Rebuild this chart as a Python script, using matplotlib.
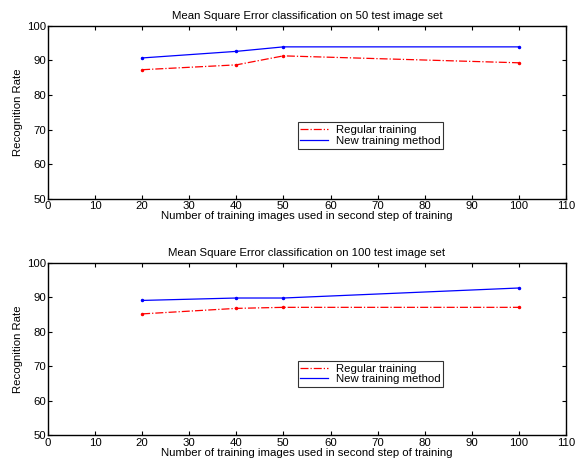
import matplotlib
matplotlib.use("Agg")
import matplotlib.pyplot as plt

plt.rcParams['font.family'] = ['Liberation Sans', 'DejaVu Sans']

n_images = [20, 40, 50, 100]

regular_50 = [87.3, 88.7, 91.3, 89.3]
new_50 = [90.7, 92.6, 93.9, 93.9]

regular_100 = [85.2, 86.8, 87.1, 87.1]
new_100 = [89.1, 89.8, 89.8, 92.7]

titles = ["Mean Square Error classification on 50 test image set",
          "Mean Square Error classification on 100 test image set"]

fs = 8.2

fig = plt.figure(figsize=(5.77, 4.68), dpi=100)
ax1 = fig.add_axes([0.083, 0.575, 0.898, 0.370])
ax2 = fig.add_axes([0.083, 0.0695, 0.898, 0.369])

legend_y = [0.29, 0.28]

for ax, reg, new, title, ly in zip([ax1, ax2], [regular_50, regular_100],
                                   [new_50, new_100], titles, legend_y):
    ax.plot(n_images, reg, 'r-.', marker='.', markersize=3, linewidth=0.9,
            label="Regular training")
    ax.plot(n_images, new, 'b-', marker='.', markersize=3, linewidth=0.9,
            label="New training method")
    ax.set_xlim(0, 110)
    ax.set_ylim(50, 100)
    ax.set_xticks(range(0, 111, 10))
    ax.set_yticks(range(50, 101, 10))
    ax.tick_params(direction='in', top=True, right=True, labelsize=fs,
                   length=3, width=0.8, pad=1.5)
    for s in ax.spines.values():
        s.set_linewidth(1.0)
    ax.set_title(title, fontsize=fs, pad=5)
    ax.set_xlabel("Number of training images used in second step of training",
                  fontsize=fs, labelpad=0)
    ax.set_ylabel("Recognition Rate", fontsize=fs, labelpad=3)
    leg = ax.legend(loc='lower left', bbox_to_anchor=(0.482, ly), fontsize=fs,
                    frameon=True, fancybox=False, handlelength=2.4,
                    borderpad=0.25, labelspacing=0.05, handletextpad=0.7,
                    borderaxespad=0)
    for h in leg.legend_handles:
        h.set_marker('')
    leg.get_frame().set_edgecolor('black')
    leg.get_frame().set_linewidth(0.8)

fig.savefig("out.png", dpi=100)
